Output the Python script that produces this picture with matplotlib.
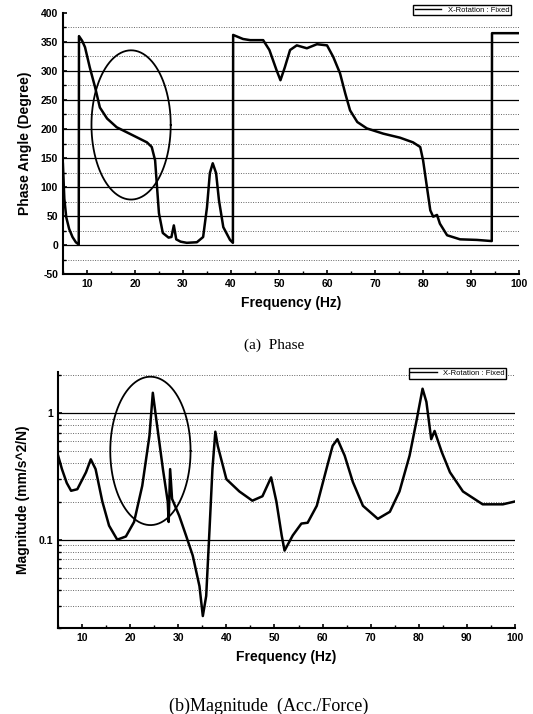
import numpy as np
from matplotlib import pyplot as plt
from matplotlib.lines import Line2D

# Phase data (Hz, degree)
phase_f = [5.0, 5.3, 5.7, 6.3, 7.0, 7.7, 8.3, 8.35, 9.0, 9.6, 10.6, 11.7, 12.7, 14.2, 16.2,
           19.6, 22.5, 23.5, 24.2, 24.6, 25.0, 25.8, 27.0, 27.6, 28.1, 28.6, 29.5, 30.8,
           32.9, 34.2, 35.0, 35.6, 36.2, 36.9, 37.5, 38.4, 39.8, 40.4, 40.45, 42.5, 44.0,
           46.7, 48.0, 49.5, 50.3, 51.2, 52.3, 53.7, 55.8, 57.9, 60.0, 61.3, 62.7, 63.8,
           64.8, 66.3, 68.3, 71.7, 75.2, 77.9, 79.4, 80.0, 80.8, 81.5, 82.1, 82.9, 83.5,
           85.0, 87.7, 91.2, 94.3, 94.35, 100.0]
phase_deg = [140, 80, 48, 28, 14, 5, 1, 360, 352, 341, 306, 272, 237, 218, 203,
             189, 177, 169, 146, 100, 55, 21, 13, 14, 34, 10, 6, 4,
             5, 14, 65, 124, 141, 124, 77, 31, 9, 4, 362, 355, 353,
             353, 336, 301, 284, 306, 336, 344, 339, 346, 344, 324, 296, 261,
             232, 212, 201, 192, 185, 177, 169, 146, 100, 60, 49, 52, 37,
             17, 10, 9, 7, 365, 365]

# Magnitude data (Hz, mm/s^2/N)
mag_f = [5.0, 5.8, 6.8, 7.7, 9.0, 10.8, 11.8, 12.8, 14.2, 15.6, 17.3, 19.1, 20.8, 22.5,
         24.0, 24.7, 25.4, 26.8, 27.8, 28.0, 28.3, 28.7, 30.2, 31.6, 33.0, 34.4, 35.1,
         35.8, 36.5, 37.1, 37.7, 38.2, 40.0, 42.7, 45.4, 47.5, 49.3, 50.4, 51.5, 52.1,
         53.8, 55.6, 56.9, 58.8, 60.8, 62.1, 63.1, 64.6, 66.3, 68.4, 71.5, 74.0, 76.0,
         78.1, 79.5, 80.8, 81.6, 82.6, 83.3, 84.8, 86.5, 89.2, 93.3, 97.5, 100.0]
mag_val = [0.46, 0.36, 0.28, 0.243, 0.25, 0.34, 0.43, 0.36, 0.2, 0.129, 0.1, 0.106, 0.138, 0.266,
           0.66, 1.44, 0.9, 0.36, 0.2, 0.138, 0.36, 0.21, 0.154, 0.108, 0.075, 0.043, 0.025,
           0.036, 0.122, 0.36, 0.71, 0.55, 0.30, 0.24, 0.203, 0.22, 0.31, 0.2, 0.108, 0.082,
           0.108, 0.134, 0.136, 0.185, 0.36, 0.55, 0.62, 0.46, 0.285, 0.185, 0.146, 0.166, 0.24,
           0.46, 0.85, 1.55, 1.22, 0.62, 0.72, 0.49, 0.34, 0.24, 0.19, 0.19, 0.2]

# Highlight ellipses (center x, center y, width, height)
phase_ellipse = (19.2, 207, 16.5, 257)
mag_ellipse = (24.2, -0.30, 16.7, 1.17)   # y in log10

legend_text = 'X-Rotation : Fixed'
plt.rcParams['font.family'] = ['Liberation Sans', 'DejaVu Sans']
plt.rcParams['axes.unicode_minus'] = False

fig = plt.figure(figsize=(5.33, 7.14), dpi=100)
ax1 = fig.add_axes([0.118, 0.616, 0.856, 0.366])
ax2 = fig.add_axes([0.109, 0.120, 0.857, 0.359])

t = np.linspace(0, 2 * np.pi, 200)

################################################################################
# (a) Phase
for v in range(0, 351, 50):
    ax1.axhline(v, color='black', lw=0.9, zorder=1)
for v in range(-25, 376, 50):
    ax1.axhline(v, color='0.4', lw=0.7, ls=(0, (1, 1.5)), zorder=1)
ax1.plot(phase_f, phase_deg, color='black', lw=1.8, zorder=3)
cx, cy, w, h = phase_ellipse
ax1.plot(cx + w / 2 * np.cos(t), cy + h / 2 * np.sin(t), color='black', lw=1.3, zorder=3)
ax1.set_xlim(5, 100)
ax1.set_ylim(-50, 400)
ax1.set_xticks(range(10, 101, 10))
ax1.set_xticks(range(5, 101, 5), minor=True)
ax1.set_yticks(range(-50, 401, 50))
ax1.set_yticks(range(-25, 400, 50), minor=True)
ax1.set_xlabel('Frequency (Hz)', fontsize=10, fontweight='bold', labelpad=5)
ax1.set_ylabel('Phase Angle (Degree)', fontsize=10, fontweight='bold', labelpad=6)
ax1.legend([Line2D([], [], color='black', lw=1)], [legend_text], loc='upper right',
           bbox_to_anchor=(0.99, 1.045), fontsize=5.5, frameon=True, fancybox=False,
           edgecolor='black', handlelength=3.5, borderpad=0.2, framealpha=1)

################################################################################
# (b) Magnitude
ax2.set_yscale('log')
for v in [0.1, 1]:
    ax2.axhline(v, color='black', lw=0.9, zorder=1)
for v in [0.03, 0.04, 0.05, 0.06, 0.07, 0.08, 0.09, 0.2, 0.3, 0.4, 0.5, 0.6, 0.7, 0.8, 0.9, 2]:
    ax2.axhline(v, color='0.4', lw=0.7, ls=(0, (1, 1.5)), zorder=1)
ax2.plot(mag_f, mag_val, color='black', lw=1.8, zorder=3)
cx, cy, w, h = mag_ellipse
ax2.plot(cx + w / 2 * np.cos(t), 10 ** (cy + h / 2 * np.sin(t)), color='black', lw=1.3, zorder=3)
ax2.set_xlim(5, 100)
ax2.set_ylim(0.02, 2.1)
ax2.set_xticks(range(10, 101, 10))
ax2.set_xticks(range(5, 101, 5), minor=True)
ax2.set_yticks([0.1, 1])
ax2.set_yticklabels(['0.1', '1'])
ax2.set_yticks([0.02, 0.03, 0.04, 0.05, 0.06, 0.07, 0.08, 0.09, 0.2, 0.3, 0.4, 0.5,
                0.6, 0.7, 0.8, 0.9, 2], minor=True)
ax2.yaxis.set_minor_formatter(plt.NullFormatter())
ax2.set_xlabel('Frequency (Hz)', fontsize=10, fontweight='bold', labelpad=5)
ax2.set_ylabel('Magnitude (mm/s^2/N)', fontsize=10, fontweight='bold', labelpad=6)
ax2.legend([Line2D([], [], color='black', lw=1)], [legend_text], loc='upper right',
           bbox_to_anchor=(0.99, 1.03), fontsize=5.5, frameon=True, fancybox=False,
           edgecolor='black', handlelength=3.5, borderpad=0.2, framealpha=1)

for ax in (ax1, ax2):
    ax.spines['top'].set_visible(False)
    ax.spines['right'].set_visible(False)
    ax.spines['left'].set_linewidth(1.5)
    ax.spines['bottom'].set_linewidth(1.5)
    ax.tick_params(which='both', direction='in', labelsize=7.5)
    ax.tick_params(which='major', length=3, width=1.2)
    ax.tick_params(which='minor', length=2, width=1)
    for lab in ax.get_xticklabels() + ax.get_yticklabels():
        lab.set_fontweight('bold')

fig.text(0.515, 1 - 345 / 714, '(a)  Phase', family='Liberation Serif', fontsize=11,
         ha='center', va='center')
fig.text(0.505, 1 - 706 / 714, '(b)Magnitude  (Acc./Force)', family='Liberation Serif',
         fontsize=13, ha='center', va='center')

plt.savefig('out.png', dpi=100)
